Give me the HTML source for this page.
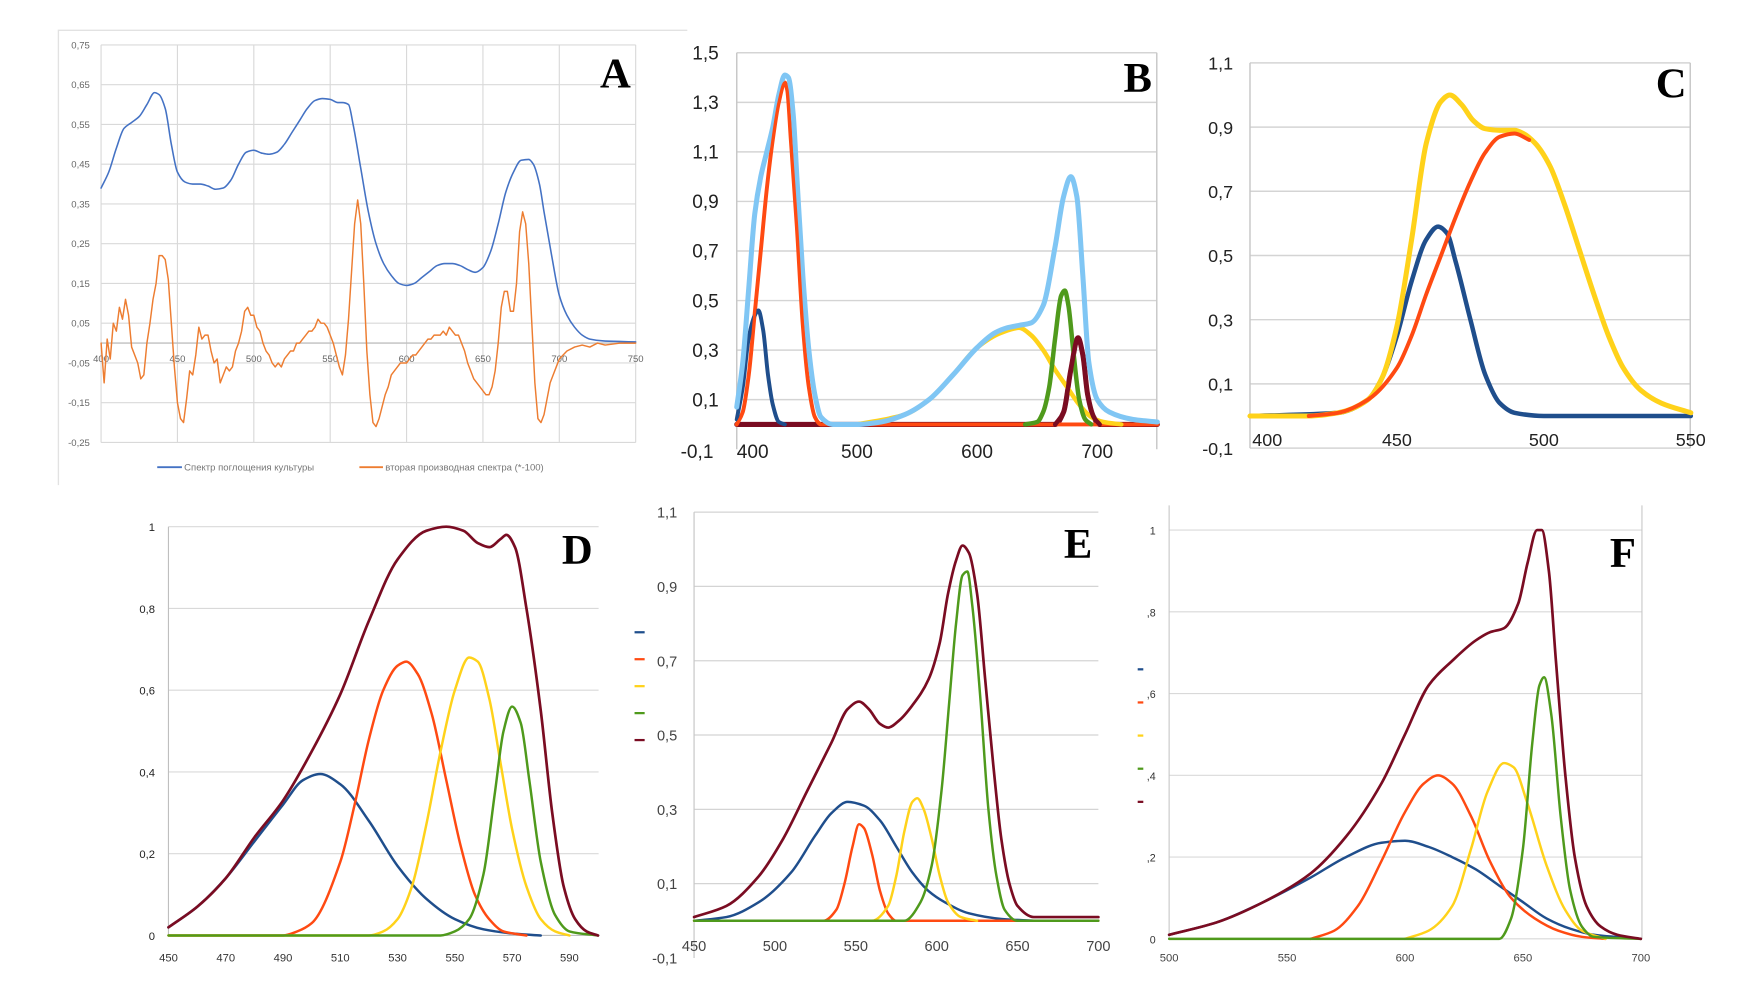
<!DOCTYPE html>
<html><head><meta charset="utf-8">
<style>
html,body{margin:0;padding:0;background:#fff;}
svg{display:block;}
text{font-family:"Liberation Sans",sans-serif;}
text.letter{font-family:"Liberation Serif",serif;}
</style></head>
<body>
<svg id="fig" xmlns="http://www.w3.org/2000/svg" width="1761" height="995" viewBox="0 0 1568 886" preserveAspectRatio="none">
</svg>
<script>
// ---------- Panel A data ----------
const aXTicks = [400,450,500,550,600,650,700,750];
const aYTicks = ["0,75","0,65","0,55","0,45","0,35","0,25","0,15","0,05","-0,05","-0,15","-0,25"];
const aYTickVals = [0.75,0.65,0.55,0.45,0.35,0.25,0.15,0.05,-0.05,-0.15,-0.25];
const aAbsorb = [[400,.39],[405,.43],[410,.49],[415,.54],[420,.555],[425,.57],[430,.60],[435,.63],[438,.625],[442,.59],[446,.50],[450,.43],[455,.405],[460,.40],[465,.40],[470,.395],[475,.387],[480,.39],[485,.41],[490,.45],[495,.48],[500,.485],[505,.478],[510,.475],[515,.48],[520,.50],[525,.53],[530,.56],[535,.59],[540,.61],[545,.615],[550,.613],[555,.605],[558,.605],[562,.60],[565,.55],[570,.44],[575,.33],[580,.25],[585,.20],[590,.17],[595,.15],[600,.145],[605,.15],[610,.165],[615,.18],[620,.195],[625,.20],[630,.2],[635,.195],[640,.185],[645,.178],[650,.19],[655,.23],[660,.30],[665,.38],[670,.43],[675,.46],[680,.462],[683,.45],[687,.40],[690,.33],[695,.22],[700,.12],[705,.07],[710,.04],[715,.02],[720,.01],[730,.005],[750,.003]];
const aDeriv = [[400,0],[402,-0.10],[404,0.01],[406,-0.04],[408,0.05],[410,0.03],[412,0.09],[414,0.06],[416,0.11],[418,0.07],[420,-0.01],[422,-0.03],[424,-0.05],[426,-0.09],[428,-0.08],[430,0.0],[432,0.05],[434,0.11],[436,0.15],[438,0.22],[440,0.22],[442,0.21],[444,0.16],[446,0.05],[448,-0.06],[450,-0.15],[452,-0.19],[454,-0.20],[456,-0.14],[458,-0.07],[460,-0.08],[462,-0.03],[464,0.04],[466,0.01],[468,0.02],[470,0.02],[472,-0.02],[474,-0.05],[476,-0.04],[478,-0.10],[480,-0.08],[482,-0.06],[484,-0.07],[486,-0.06],[488,-0.02],[490,0.0],[492,0.03],[494,0.08],[496,0.09],[498,0.07],[500,0.07],[502,0.04],[504,0.03],[506,0.0],[508,-0.02],[510,-0.03],[512,-0.05],[514,-0.06],[516,-0.05],[518,-0.06],[520,-0.04],[522,-0.03],[524,-0.02],[526,-0.02],[528,0.0],[530,0.0],[532,0.01],[534,0.02],[536,0.03],[538,0.03],[540,0.04],[542,0.06],[544,0.05],[546,0.05],[548,0.04],[550,0.02],[552,0.0],[554,-0.03],[556,-0.06],[558,-0.08],[560,-0.03],[562,0.06],[564,0.18],[566,0.30],[568,0.36],[570,0.30],[572,0.15],[574,-0.02],[576,-0.13],[578,-0.20],[580,-0.21],[582,-0.19],[584,-0.16],[586,-0.13],[588,-0.11],[590,-0.08],[592,-0.07],[594,-0.06],[596,-0.05],[598,-0.05],[600,-0.05],[602,-0.04],[604,-0.03],[606,-0.03],[608,-0.02],[610,-0.01],[612,0.0],[614,0.01],[616,0.01],[618,0.02],[620,0.02],[622,0.02],[624,0.03],[626,0.02],[628,0.04],[630,0.03],[632,0.02],[634,0.02],[636,0.0],[638,-0.02],[640,-0.05],[642,-0.07],[644,-0.09],[646,-0.10],[648,-0.11],[650,-0.12],[652,-0.13],[654,-0.13],[656,-0.11],[658,-0.07],[660,0.0],[662,0.09],[664,0.13],[666,0.13],[668,0.08],[670,0.08],[672,0.15],[674,0.28],[676,0.33],[678,0.30],[680,0.20],[682,0.05],[684,-0.10],[686,-0.19],[688,-0.20],[690,-0.18],[692,-0.14],[694,-0.10],[696,-0.08],[698,-0.06],[700,-0.04],[705,-0.02],[710,-0.01],[715,-0.005],[720,-0.01],[725,0.0],[730,-0.005],[740,0.0],[750,0.0]];
// ---------- Panel B data ----------
const bXTicks = [500,600,700];
const bYTicks = ["1,5","1,3","1,1","0,9","0,7","0,5","0,3","0,1"];
const bYTickVals = [1.5,1.3,1.1,0.9,0.7,0.5,0.3,0.1];
const bMaroon = [[400,0],[665,0],[672,.05],[678,.22],[684,.35],[688,.28],[692,.12],[697,.03],[702,0],[750,0]];
const bRed = [[400,0],[405,.05],[410,.2],[415,.45],[420,.7],[425,.95],[430,1.15],[435,1.3],[440,1.38],[442,1.35],[445,1.15],[450,.8],[455,.4],[460,.15],[465,.03],[470,0],[750,0]];
const bYellow = [[500,0],[540,.04],[560,.10],[580,.20],[600,.31],[620,.37],[635,.39],[645,.36],[655,.30],[665,.22],[675,.15],[685,.08],[695,.03],[705,.01],[720,0]];
const bGreen = [[640,0],[650,.01],[655,.05],[660,.15],[665,.35],[670,.52],[673,.54],[676,.48],[680,.30],[685,.1],[690,.02],[695,0]];
const bNavy = [[400,.02],[405,.15],[410,.35],[415,.44],[418,.46],[422,.38],[426,.2],[430,.08],[435,.01],[440,0]];
const bSky = [[400,.07],[405,.25],[410,.55],[415,.85],[420,1.0],[425,1.1],[430,1.2],[435,1.33],[440,1.41],[443,1.40],[447,1.25],[450,1.0],[455,.6],[460,.3],[465,.12],[470,.03],[480,0],[500,0],[520,.01],[540,.04],[560,.10],[580,.20],[600,.31],[615,.37],[625,.39],[635,.40],[645,.41],[655,.48],[665,.72],[672,.92],[678,1.0],[683,.92],[688,.60],[693,.25],[700,.10],[710,.05],[730,.02],[750,.01]];
// ---------- Panel C data ----------
const cXTicks = [400,450,500,550];
const cYTicks = ["1,1","0,9","0,7","0,5","0,3","0,1","-0,1"];
const cYTickVals = [1.1,0.9,0.7,0.5,0.3,0.1,-0.1];
const cYellow = [[400,0],[420,0],[430,.01],[440,.05],[445,.12],[450,.28],[455,.55],[460,.85],[465,.98],[468,1.0],[472,.97],[476,.92],[480,.895],[485,.89],[490,.89],[493,.88],[497,.85],[502,.78],[507,.66],[512,.52],[517,.38],[522,.25],[527,.15],[533,.08],[540,.04],[550,.01]];
const cRed = [[420,0],[430,.01],[440,.05],[450,.15],[455,.25],[460,.38],[465,.50],[470,.62],[475,.73],[480,.82],[485,.87],[490,.88],[495,.86]];
const cNavy = [[400,0],[430,.01],[440,.05],[445,.12],[450,.25],[455,.42],[460,.55],[464,.59],[467,.57],[470,.48],[475,.30],[480,.13],[485,.04],[490,.01],[500,0],[550,0]];
// ---------- Panel D data ----------
const dXTicks = [450,470,490,510,530,550,570,590];
const dYTicks = ["0","0,2","0,4","0,6","0,8","1"];
const dYTickVals = [0,0.2,0.4,0.6,0.8,1];
const dNavy = [[450,.02],[460,.07],[470,.14],[480,.23],[490,.32],[497,.38],[503,.395],[510,.37],[520,.28],[530,.17],[540,.09],[550,.04],[560,.015],[570,.005],[580,0]];
const dRed = [[450,0],[490,0],[495,.01],[500,.03],[510,.18],[515,.32],[520,.48],[525,.60],[530,.66],[533,.67],[537,.64],[542,.54],[547,.38],[552,.22],[557,.10],[562,.04],[567,.01],[575,0]];
const dYellow = [[450,0],[520,0],[525,.01],[530,.04],[535,.12],[540,.27],[545,.45],[550,.60],[555,.68],[558,.67],[562,.58],[566,.42],[570,.26],[575,.12],[580,.04],[585,.01],[590,0]];
const dGreen = [[450,0],[545,0],[550,.01],[555,.04],[560,.15],[564,.35],[567,.50],[570,.56],[573,.52],[576,.38],[580,.18],[585,.05],[590,.01],[600,0]];
const dMaroon = [[450,.02],[460,.07],[470,.14],[480,.24],[490,.33],[500,.45],[510,.59],[520,.77],[530,.92],[540,.99],[547,1.0],[553,.99],[558,.96],[562,.95],[566,.97],[568,.98],[571,.95],[575,.80],[580,.55],[584,.30],[588,.12],[592,.04],[596,.01],[600,0]];
// ---------- Panel E data ----------
const eXTicks = [450,500,550,600,650,700];
const eYTicks = ["1,1","0,9","0,7","0,5","0,3","0,1","-0,1"];
const eYTickVals = [1.1,0.9,0.7,0.5,0.3,0.1,-0.1];
const eNavy = [[450,0],[470,.01],[490,.05],[510,.13],[525,.23],[535,.29],[545,.32],[555,.31],[565,.27],[575,.20],[585,.13],[595,.08],[605,.05],[620,.02],[640,.005],[660,0]];
const eRed = [[450,0],[530,0],[538,.03],[543,.10],[548,.20],[552,.26],[555,.25],[560,.18],[565,.08],[570,.02],[575,0],[700,0]];
const eYellow = [[450,0],[560,0],[570,.04],[575,.12],[580,.24],[585,.32],[588,.33],[592,.30],[597,.22],[602,.12],[607,.05],[615,.01],[625,0]];
const eGreen = [[450,0],[580,0],[590,.05],[597,.15],[603,.35],[608,.60],[612,.80],[616,.93],[619,.94],[622,.85],[627,.60],[632,.30],[637,.12],[642,.03],[650,0],[700,0]];
const eMaroon = [[450,.01],[470,.04],[490,.12],[505,.22],[520,.35],[535,.48],[545,.57],[552,.59],[558,.57],[565,.53],[570,.52],[577,.54],[585,.58],[595,.65],[602,.75],[607,.88],[612,.97],[616,1.01],[620,.99],[625,.88],[630,.65],[635,.42],[640,.22],[645,.10],[650,.04],[660,.01],[700,.01]];
// ---------- Panel F data ----------
const fXTicks = [500,550,600,650,700];
const fYTicks = ["0",",2",",4",",6",",8","1"];
const fYTickVals = [0,0.2,0.4,0.6,0.8,1];
const fNavy = [[500,.01],[520,.04],[540,.09],[560,.15],[575,.20],[590,.235],[600,.24],[610,.225],[620,.20],[630,.17],[640,.13],[650,.09],[660,.05],[670,.025],[680,.01],[700,0]];
const fRed = [[560,0],[570,.02],[580,.08],[590,.19],[600,.31],[608,.38],[614,.40],[620,.38],[628,.30],[636,.19],[645,.10],[655,.05],[665,.02],[675,.005],[685,0]];
const fYellow = [[600,0],[610,.02],[620,.08],[628,.22],[635,.36],[642,.43],[646,.42],[652,.33],[660,.18],[668,.07],[675,.02],[685,0]];
const fGreen = [[500,0],[640,0],[645,.05],[650,.22],[654,.48],[657,.62],[659,.64],[662,.55],[666,.30],[670,.12],[675,.03],[680,.005],[700,0]];
const fMaroon = [[500,.01],[520,.04],[540,.09],[560,.16],[575,.25],[590,.38],[600,.50],[610,.62],[620,.68],[630,.73],[636,.75],[642,.76],[648,.82],[652,.92],[656,1.0],[658,1.0],[661,.90],[664,.68],[668,.40],[672,.20],[677,.08],[683,.03],[690,.01],[700,0]];

const NS = "http://www.w3.org/2000/svg";
const svg = document.getElementById('fig');
const COL = {navy:"#1f4e8c", red:"#ff4a12", yellow:"#ffd21a", green:"#4f9a1c", maroon:"#7a0c22", sky:"#80c6f4", blueA:"#4472c4", orangeA:"#ed7d31"};

function mk(tag, attrs, parent){
  const e = document.createElementNS(NS, tag);
  for (const k in attrs) e.setAttribute(k, attrs[k]);
  (parent||svg).appendChild(e);
  return e;
}
function scaler(d0,d1,p0,p1){ return v => p0 + (v-d0)/(d1-d0)*(p1-p0); }
// monotone cubic (Fritsch-Carlson) – no overshoot
function smoothPath(pts){
  const n = pts.length;
  if (n < 3) return "M"+pts.map(p=>p[0].toFixed(2)+","+p[1].toFixed(2)).join(" L");
  const dx=[], dy=[], m=[], t=new Array(n);
  for (let i=0;i<n-1;i++){ dx[i]=pts[i+1][0]-pts[i][0]; dy[i]=pts[i+1][1]-pts[i][1]; m[i]=dy[i]/dx[i]; }
  t[0]=m[0]; t[n-1]=m[n-2];
  for (let i=1;i<n-1;i++){
    if (m[i-1]*m[i] <= 0) t[i]=0;
    else { const w1=2*dx[i]+dx[i-1], w2=dx[i]+2*dx[i-1]; t[i]=(w1+w2)/(w1/m[i-1]+w2/m[i]); }
  }
  let d = "M"+pts[0][0].toFixed(2)+","+pts[0][1].toFixed(2);
  for (let i=0;i<n-1;i++){
    const h=dx[i];
    d += " C"+(pts[i][0]+h/3).toFixed(2)+","+(pts[i][1]+t[i]*h/3).toFixed(2)+" "+(pts[i+1][0]-h/3).toFixed(2)+","+(pts[i+1][1]-t[i+1]*h/3).toFixed(2)+" "+pts[i+1][0].toFixed(2)+","+pts[i+1][1].toFixed(2);
  }
  return d;
}
function drawSeries(g, data, sx, sy, color, width, name, smooth){
  const pts = data.map(p=>[sx(p[0]), sy(p[1])]);
  const el = mk('path', {d: smooth===false ? "M"+pts.map(p=>p[0].toFixed(2)+","+p[1].toFixed(2)).join(" L") : smoothPath(pts), fill:"none", stroke:color, "stroke-width":width, "stroke-linejoin":"round", "stroke-linecap":"round"}, g);
  
  
  return el;
}
function label(g, x, y, txt, size, color, anchor, name, extra){
  const t = mk('text', Object.assign({x:x, y:y, "font-size":size, fill:color, "text-anchor":anchor||"middle"}, extra||{}), g);
  t.textContent = txt;
  
  
  return t;
}
function panelLetter(g, x, y, L){
  const t = mk('text', {x:x, y:y, "font-size":38, "font-weight":"bold", "class":"letter", fill:"#000", "text-anchor":"middle"}, g);
  t.textContent = L;
  
  
}
function group(name){
  const g = mk('g', {});
  
  
  return g;
}

// ===== Panel A =====
(function(){
  const g = group('panel-a-chart');
  const sx = scaler(400,750,90,566), sy = scaler(0.75,-0.25,40,394);
  mk('path',{d:"M52,432 L52,27 L612,27", fill:"none", stroke:"#e2e2e2", "stroke-width":1.2}, g);
  aYTickVals.forEach((v,i)=>{
    const l = mk('line',{x1:90,x2:566,y1:sy(v),y2:sy(v),stroke:"#d9d9d9","stroke-width":1},g);
     
    label(g, 80, sy(v)+3, aYTicks[i], 8.5, "#666", "end", 'a-y-tick-label');
  });
  aXTicks.forEach(v=>{
    const l = mk('line',{x1:sx(v),x2:sx(v),y1:40,y2:394,stroke:"#d9d9d9","stroke-width":1},g);
     
    label(g, sx(v), sy(0)+17, String(v), 8.5, "#666", "middle", 'a-x-tick-label');
  });
  mk('line',{x1:90,x2:566,y1:sy(0),y2:sy(0),stroke:"#bfbfbf","stroke-width":1.2},g);
  drawSeries(g, aAbsorb, sx, sy, COL.blueA, 1.4, 'absorption-spectrum-line');
  drawSeries(g, aDeriv, sx, sy, COL.orangeA, 1.3, 'second-derivative-line', false);
  const l1 = mk('line',{x1:140,x2:162,y1:416,y2:416,stroke:COL.blueA,"stroke-width":1.6},g);
   
  label(g, 164, 419, "Спектр поглощения культуры", 8.5, "#777", "start", 'legend-entry-absorption');
  const l2 = mk('line',{x1:320,x2:341,y1:416,y2:416,stroke:COL.orangeA,"stroke-width":1.6},g);
   
  label(g, 343, 419, "вторая производная спектра (*-100)", 8.5, "#777", "start", 'legend-entry-derivative');
  panelLetter(g, 548, 78, "A");
})();

// ===== Panel B =====
(function(){
  const g = group('panel-b-chart');
  const sx = scaler(400,750,656,1030.5), sy = scaler(1.5,-0.1,47,400);
  bYTickVals.forEach((v,i)=>{
    mk('line',{x1:656,x2:1030,y1:sy(v),y2:sy(v),stroke:"#d4d4d4","stroke-width":1.3},g);
    label(g, 640, sy(v)+6, bYTicks[i], 17, "#222", "end", 'b-y-tick-label');
  });
  mk('line',{x1:656,x2:656,y1:47,y2:400,stroke:"#c8c8c8","stroke-width":1.3},g);
  mk('line',{x1:1030,x2:1030,y1:47,y2:400,stroke:"#c8c8c8","stroke-width":1.3},g);
  label(g, 606, 408, "-0,1", 17, "#222", "start", 'b-y-tick-label-min');
  label(g, 656, 408, "400", 17, "#222", "start", 'b-x-tick-label');
  bXTicks.forEach(v=> label(g, sx(v), 408, String(v), 17, "#222", "middle", 'b-x-tick-label'));
  drawSeries(g, bMaroon, sx, sy, COL.maroon, 4.5, 'b-series-maroon');
  drawSeries(g, bRed, sx, sy, COL.red, 3.5, 'b-series-red');
  drawSeries(g, bYellow, sx, sy, COL.yellow, 4, 'b-series-yellow');
  drawSeries(g, bGreen, sx, sy, COL.green, 4, 'b-series-green');
  drawSeries(g, bNavy, sx, sy, COL.navy, 3.5, 'b-series-navy');
  drawSeries(g, bSky, sx, sy, COL.sky, 4.5, 'b-series-sky');
  drawSeries(g, bMaroon.filter(p=>p[0]>=665&&p[0]<=702), sx, sy, COL.maroon, 4, 'b-series-maroon-peak');
  drawSeries(g, bRed.filter(p=>p[0]<=470), sx, sy, COL.red, 2.5, 'b-series-red-top');
  panelLetter(g, 1013, 82, "B");
})();

// ===== Panel C =====
(function(){
  const g = group('panel-c-chart');
  const sx = scaler(400,550,1113,1505.5), sy = scaler(1.1,-0.1,56,399);
  cYTickVals.forEach((v,i)=>{
    mk('line',{x1:1113,x2:1505,y1:sy(v),y2:sy(v),stroke:"#d4d4d4","stroke-width":1.3},g);
    label(g, 1098, sy(v)+6, cYTicks[i], 16, "#222", "end", 'c-y-tick-label');
  });
  mk('line',{x1:1113,x2:1113,y1:56,y2:399,stroke:"#c8c8c8","stroke-width":1.3},g);
  mk('line',{x1:1505,x2:1505,y1:56,y2:399,stroke:"#c8c8c8","stroke-width":1.3},g);
  cXTicks.forEach(v=> label(g, sx(v)+(v===400?2:0), 397, String(v), 16, "#222", v===400?"start":"middle", 'c-x-tick-label'));
  drawSeries(g, cNavy, sx, sy, COL.navy, 4, 'c-series-navy');
  drawSeries(g, cYellow, sx, sy, COL.yellow, 4.5, 'c-series-yellow');
  drawSeries(g, cRed, sx, sy, COL.red, 3.5, 'c-series-red');
  panelLetter(g, 1488, 87, "C");
})();

// ===== Panel D =====
(function(){
  const g = group('panel-d-chart');
  const sx = scaler(450,600,150,532.5), sy = scaler(1,0,469,833);
  dYTickVals.forEach((v,i)=>{
    mk('line',{x1:150,x2:533,y1:sy(v),y2:sy(v),stroke:"#d9d9d9","stroke-width":1},g);
    label(g, 138, sy(v)+4, dYTicks[i], 10, "#222", "end", 'd-y-tick-label');
  });
  mk('line',{x1:150,x2:150,y1:469,y2:833,stroke:"#bfbfbf","stroke-width":1},g);
  mk('line',{x1:150,x2:533,y1:833,y2:833,stroke:"#bfbfbf","stroke-width":1},g);
  dXTicks.forEach(v=> label(g, sx(v), 856, String(v), 10, "#333", "middle", 'd-x-tick-label'));
  drawSeries(g, dNavy, sx, sy, COL.navy, 2.2, 'd-series-navy');
  drawSeries(g, dRed, sx, sy, COL.red, 2.2, 'd-series-red');
  drawSeries(g, dYellow, sx, sy, COL.yellow, 2.2, 'd-series-yellow');
  drawSeries(g, dGreen, sx, sy, COL.green, 2.2, 'd-series-green');
  drawSeries(g, dMaroon, sx, sy, COL.maroon, 2.4, 'd-series-maroon');
  panelLetter(g, 514, 502, "D");
})();

// ===== Panel E =====
(function(){
  const g = group('panel-e-chart');
  const sx = scaler(450,700,618,978), sy = scaler(1.1,-0.1,456,853);
  eYTickVals.forEach((v,i)=>{
    if (v>-0.05) mk('line',{x1:618,x2:978,y1:sy(v),y2:sy(v),stroke:"#d4d4d4","stroke-width":1.1},g);
    label(g, 603, sy(v)+5, eYTicks[i], 13, "#444", "end", 'e-y-tick-label');
  });
  mk('line',{x1:618,x2:618,y1:456,y2:853,stroke:"#c8c8c8","stroke-width":1.1},g);
  mk('line',{x1:618,x2:978,y1:sy(0),y2:sy(0),stroke:"#c8c8c8","stroke-width":1.1},g);
  eXTicks.forEach(v=> label(g, sx(v), 847, String(v), 13, "#444", "middle", 'e-x-tick-label'));
  [COL.navy,COL.red,COL.yellow,COL.green,COL.maroon].forEach((c,i)=>{
    const s = mk('line',{x1:565,x2:574,y1:563+i*24,y2:563+i*24,stroke:c,"stroke-width":2},g);
     
  });
  drawSeries(g, eNavy, sx, sy, COL.navy, 2.2, 'e-series-navy');
  drawSeries(g, eRed, sx, sy, COL.red, 2.2, 'e-series-red');
  drawSeries(g, eYellow, sx, sy, COL.yellow, 2.2, 'e-series-yellow');
  drawSeries(g, eGreen, sx, sy, COL.green, 2.2, 'e-series-green');
  drawSeries(g, eMaroon, sx, sy, COL.maroon, 2.4, 'e-series-maroon');
  panelLetter(g, 960, 497, "E");
})();

// ===== Panel F =====
(function(){
  const g = group('panel-f-chart');
  const sx = scaler(500,700,1041,1461), sy = scaler(1,0,472,836);
  fYTickVals.forEach((v,i)=>{
    mk('line',{x1:1041,x2:1462,y1:sy(v),y2:sy(v),stroke:"#d9d9d9","stroke-width":1},g);
    label(g, 1029, sy(v)+4, fYTicks[i], 9.5, "#333", "end", 'f-y-tick-label');
  });
  mk('line',{x1:1041,x2:1041,y1:450,y2:836,stroke:"#c8c8c8","stroke-width":1},g);
  mk('line',{x1:1462,x2:1462,y1:450,y2:836,stroke:"#c8c8c8","stroke-width":1},g);
  fXTicks.forEach(v=> label(g, sx(v), 856, String(v), 10, "#444", "middle", 'f-x-tick-label'));
  [COL.navy,COL.red,COL.yellow,COL.green,COL.maroon].forEach((c,i)=>{
    const s = mk('line',{x1:1013,x2:1018,y1:596+i*29.5,y2:596+i*29.5,stroke:c,"stroke-width":2},g);
     
  });
  drawSeries(g, fNavy, sx, sy, COL.navy, 2.2, 'f-series-navy');
  drawSeries(g, fRed, sx, sy, COL.red, 2.2, 'f-series-red');
  drawSeries(g, fYellow, sx, sy, COL.yellow, 2.2, 'f-series-yellow');
  drawSeries(g, fGreen, sx, sy, COL.green, 2.2, 'f-series-green');
  drawSeries(g, fMaroon, sx, sy, COL.maroon, 2.4, 'f-series-maroon');
  panelLetter(g, 1445, 505, "F");
})();
</script>
</body></html>
